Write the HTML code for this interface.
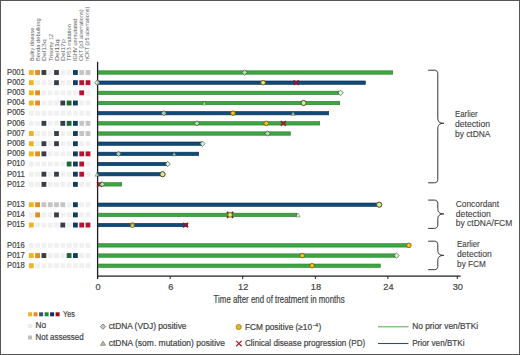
<!DOCTYPE html><html><head><meta charset="utf-8"><style>html,body{margin:0;padding:0;background:#fff;}svg{display:block;} text{stroke:#444;stroke-width:0.2px;} text.h{stroke:none;} text.g{stroke:#3c3c3c;stroke-width:0.1px;}</style></head><body>
<svg width="520" height="355" viewBox="0 0 520 355" font-family='"Liberation Sans", sans-serif'>
<rect x="0" y="0" width="520" height="355" fill="#fff"/>
<text class="h" transform="translate(34.20,61.0) rotate(-90)" font-size="6.2" fill="#606060" textLength="33.3" lengthAdjust="spacingAndGlyphs">Bulky disease</text>
<text class="h" transform="translate(40.32,61.0) rotate(-90)" font-size="6.2" fill="#606060" textLength="42.6" lengthAdjust="spacingAndGlyphs">Benda debulking</text>
<text class="h" transform="translate(46.44,61.0) rotate(-90)" font-size="6.2" fill="#606060" textLength="21.7" lengthAdjust="spacingAndGlyphs">Del13q</text>
<text class="h" transform="translate(52.56,61.0) rotate(-90)" font-size="6.2" fill="#606060" textLength="27.0" lengthAdjust="spacingAndGlyphs">Trisomy 12</text>
<text class="h" transform="translate(58.68,61.0) rotate(-90)" font-size="6.2" fill="#606060" textLength="21.7" lengthAdjust="spacingAndGlyphs">Del11q</text>
<text class="h" transform="translate(64.80,61.0) rotate(-90)" font-size="6.2" fill="#606060" textLength="21.7" lengthAdjust="spacingAndGlyphs">Del17p</text>
<text class="h" transform="translate(70.92,61.0) rotate(-90)" font-size="6.2" fill="#606060" textLength="36.9" lengthAdjust="spacingAndGlyphs">TP53 mutation</text>
<text class="h" transform="translate(77.04,61.0) rotate(-90)" font-size="6.2" fill="#606060" textLength="42.199999999999996" lengthAdjust="spacingAndGlyphs">IGHV unmutated</text>
<text class="h" transform="translate(83.16,61.0) rotate(-90)" font-size="6.2" fill="#606060" textLength="51.5" lengthAdjust="spacingAndGlyphs">CKT (≥3 aberrations)</text>
<text class="h" transform="translate(89.28,61.0) rotate(-90)" font-size="6.2" fill="#606060" textLength="54.4" lengthAdjust="spacingAndGlyphs">hCKT (≥5 aberrations)</text>
<text x="7.1" y="74.80" font-size="8.4" fill="#444444" textLength="17.7" lengthAdjust="spacingAndGlyphs">P001</text>
<rect x="28.90" y="70.05" width="4.8" height="4.9" fill="#f0b21e"/>
<rect x="35.20" y="70.05" width="4.8" height="4.9" fill="#e58b1f"/>
<rect x="41.50" y="70.05" width="4.8" height="4.9" fill="#383e48"/>
<rect x="47.80" y="70.05" width="4.8" height="4.9" fill="#f0f0f1"/>
<rect x="54.10" y="70.05" width="4.8" height="4.9" fill="#383e48"/>
<rect x="60.40" y="70.05" width="4.8" height="4.9" fill="#f0f0f1"/>
<rect x="66.70" y="70.05" width="4.8" height="4.9" fill="#f0f0f1"/>
<rect x="73.00" y="70.05" width="4.8" height="4.9" fill="#103c62"/>
<rect x="79.30" y="70.05" width="4.8" height="4.9" fill="#c4c4c4"/>
<rect x="85.60" y="70.05" width="4.8" height="4.9" fill="#c4c4c4"/>
<text x="7.1" y="84.97" font-size="8.4" fill="#444444" textLength="17.7" lengthAdjust="spacingAndGlyphs">P002</text>
<rect x="28.90" y="80.22" width="4.8" height="4.9" fill="#f0b21e"/>
<rect x="35.20" y="80.22" width="4.8" height="4.9" fill="#f0f0f1"/>
<rect x="41.50" y="80.22" width="4.8" height="4.9" fill="#f0f0f1"/>
<rect x="47.80" y="80.22" width="4.8" height="4.9" fill="#f0f0f1"/>
<rect x="54.10" y="80.22" width="4.8" height="4.9" fill="#383e48"/>
<rect x="60.40" y="80.22" width="4.8" height="4.9" fill="#f0f0f1"/>
<rect x="66.70" y="80.22" width="4.8" height="4.9" fill="#f0f0f1"/>
<rect x="73.00" y="80.22" width="4.8" height="4.9" fill="#103c62"/>
<rect x="79.30" y="80.22" width="4.8" height="4.9" fill="#ba1230"/>
<rect x="85.60" y="80.22" width="4.8" height="4.9" fill="#ba1230"/>
<text x="7.1" y="95.14" font-size="8.4" fill="#444444" textLength="17.7" lengthAdjust="spacingAndGlyphs">P003</text>
<rect x="28.90" y="90.39" width="4.8" height="4.9" fill="#f0b21e"/>
<rect x="35.20" y="90.39" width="4.8" height="4.9" fill="#e58b1f"/>
<rect x="41.50" y="90.39" width="4.8" height="4.9" fill="#f0f0f1"/>
<rect x="47.80" y="90.39" width="4.8" height="4.9" fill="#f0f0f1"/>
<rect x="54.10" y="90.39" width="4.8" height="4.9" fill="#f0f0f1"/>
<rect x="60.40" y="90.39" width="4.8" height="4.9" fill="#f0f0f1"/>
<rect x="66.70" y="90.39" width="4.8" height="4.9" fill="#f0f0f1"/>
<rect x="73.00" y="90.39" width="4.8" height="4.9" fill="#f0f0f1"/>
<rect x="79.30" y="90.39" width="4.8" height="4.9" fill="#ba1230"/>
<rect x="85.60" y="90.39" width="4.8" height="4.9" fill="#f0f0f1"/>
<text x="7.1" y="105.31" font-size="8.4" fill="#444444" textLength="17.7" lengthAdjust="spacingAndGlyphs">P004</text>
<rect x="28.90" y="100.56" width="4.8" height="4.9" fill="#f0b21e"/>
<rect x="35.20" y="100.56" width="4.8" height="4.9" fill="#e58b1f"/>
<rect x="41.50" y="100.56" width="4.8" height="4.9" fill="#f0f0f1"/>
<rect x="47.80" y="100.56" width="4.8" height="4.9" fill="#f0f0f1"/>
<rect x="54.10" y="100.56" width="4.8" height="4.9" fill="#f0f0f1"/>
<rect x="60.40" y="100.56" width="4.8" height="4.9" fill="#383e48"/>
<rect x="66.70" y="100.56" width="4.8" height="4.9" fill="#1b6536"/>
<rect x="73.00" y="100.56" width="4.8" height="4.9" fill="#103c62"/>
<rect x="79.30" y="100.56" width="4.8" height="4.9" fill="#f0f0f1"/>
<rect x="85.60" y="100.56" width="4.8" height="4.9" fill="#f0f0f1"/>
<text x="7.1" y="115.48" font-size="8.4" fill="#444444" textLength="17.7" lengthAdjust="spacingAndGlyphs">P005</text>
<rect x="28.90" y="110.73" width="4.8" height="4.9" fill="#f0f0f1"/>
<rect x="35.20" y="110.73" width="4.8" height="4.9" fill="#f0f0f1"/>
<rect x="41.50" y="110.73" width="4.8" height="4.9" fill="#f0f0f1"/>
<rect x="47.80" y="110.73" width="4.8" height="4.9" fill="#f0f0f1"/>
<rect x="54.10" y="110.73" width="4.8" height="4.9" fill="#f0f0f1"/>
<rect x="60.40" y="110.73" width="4.8" height="4.9" fill="#f0f0f1"/>
<rect x="66.70" y="110.73" width="4.8" height="4.9" fill="#f0f0f1"/>
<rect x="73.00" y="110.73" width="4.8" height="4.9" fill="#f0f0f1"/>
<rect x="79.30" y="110.73" width="4.8" height="4.9" fill="#f0f0f1"/>
<rect x="85.60" y="110.73" width="4.8" height="4.9" fill="#f0f0f1"/>
<text x="7.1" y="125.65" font-size="8.4" fill="#444444" textLength="17.7" lengthAdjust="spacingAndGlyphs">P006</text>
<rect x="28.90" y="120.90" width="4.8" height="4.9" fill="#f0f0f1"/>
<rect x="35.20" y="120.90" width="4.8" height="4.9" fill="#f0f0f1"/>
<rect x="41.50" y="120.90" width="4.8" height="4.9" fill="#383e48"/>
<rect x="47.80" y="120.90" width="4.8" height="4.9" fill="#f0f0f1"/>
<rect x="54.10" y="120.90" width="4.8" height="4.9" fill="#f0f0f1"/>
<rect x="60.40" y="120.90" width="4.8" height="4.9" fill="#383e48"/>
<rect x="66.70" y="120.90" width="4.8" height="4.9" fill="#1b6536"/>
<rect x="73.00" y="120.90" width="4.8" height="4.9" fill="#103c62"/>
<rect x="79.30" y="120.90" width="4.8" height="4.9" fill="#c4c4c4"/>
<rect x="85.60" y="120.90" width="4.8" height="4.9" fill="#c4c4c4"/>
<text x="7.1" y="135.82" font-size="8.4" fill="#444444" textLength="17.7" lengthAdjust="spacingAndGlyphs">P007</text>
<rect x="28.90" y="131.07" width="4.8" height="4.9" fill="#f0b21e"/>
<rect x="35.20" y="131.07" width="4.8" height="4.9" fill="#f0f0f1"/>
<rect x="41.50" y="131.07" width="4.8" height="4.9" fill="#f0f0f1"/>
<rect x="47.80" y="131.07" width="4.8" height="4.9" fill="#f0f0f1"/>
<rect x="54.10" y="131.07" width="4.8" height="4.9" fill="#383e48"/>
<rect x="60.40" y="131.07" width="4.8" height="4.9" fill="#f0f0f1"/>
<rect x="66.70" y="131.07" width="4.8" height="4.9" fill="#f0f0f1"/>
<rect x="73.00" y="131.07" width="4.8" height="4.9" fill="#103c62"/>
<rect x="79.30" y="131.07" width="4.8" height="4.9" fill="#c4c4c4"/>
<rect x="85.60" y="131.07" width="4.8" height="4.9" fill="#c4c4c4"/>
<text x="7.1" y="145.99" font-size="8.4" fill="#444444" textLength="17.7" lengthAdjust="spacingAndGlyphs">P008</text>
<rect x="28.90" y="141.24" width="4.8" height="4.9" fill="#f0b21e"/>
<rect x="35.20" y="141.24" width="4.8" height="4.9" fill="#f0f0f1"/>
<rect x="41.50" y="141.24" width="4.8" height="4.9" fill="#383e48"/>
<rect x="47.80" y="141.24" width="4.8" height="4.9" fill="#f0f0f1"/>
<rect x="54.10" y="141.24" width="4.8" height="4.9" fill="#383e48"/>
<rect x="60.40" y="141.24" width="4.8" height="4.9" fill="#f0f0f1"/>
<rect x="66.70" y="141.24" width="4.8" height="4.9" fill="#f0f0f1"/>
<rect x="73.00" y="141.24" width="4.8" height="4.9" fill="#103c62"/>
<rect x="79.30" y="141.24" width="4.8" height="4.9" fill="#f0f0f1"/>
<rect x="85.60" y="141.24" width="4.8" height="4.9" fill="#f0f0f1"/>
<text x="7.1" y="156.16" font-size="8.4" fill="#444444" textLength="17.7" lengthAdjust="spacingAndGlyphs">P009</text>
<rect x="28.90" y="151.41" width="4.8" height="4.9" fill="#f0b21e"/>
<rect x="35.20" y="151.41" width="4.8" height="4.9" fill="#e58b1f"/>
<rect x="41.50" y="151.41" width="4.8" height="4.9" fill="#383e48"/>
<rect x="47.80" y="151.41" width="4.8" height="4.9" fill="#f0f0f1"/>
<rect x="54.10" y="151.41" width="4.8" height="4.9" fill="#f0f0f1"/>
<rect x="60.40" y="151.41" width="4.8" height="4.9" fill="#f0f0f1"/>
<rect x="66.70" y="151.41" width="4.8" height="4.9" fill="#f0f0f1"/>
<rect x="73.00" y="151.41" width="4.8" height="4.9" fill="#103c62"/>
<rect x="79.30" y="151.41" width="4.8" height="4.9" fill="#ba1230"/>
<rect x="85.60" y="151.41" width="4.8" height="4.9" fill="#ba1230"/>
<text x="7.1" y="166.33" font-size="8.4" fill="#444444" textLength="17.7" lengthAdjust="spacingAndGlyphs">P010</text>
<rect x="28.90" y="161.58" width="4.8" height="4.9" fill="#f0f0f1"/>
<rect x="35.20" y="161.58" width="4.8" height="4.9" fill="#f0f0f1"/>
<rect x="41.50" y="161.58" width="4.8" height="4.9" fill="#f0f0f1"/>
<rect x="47.80" y="161.58" width="4.8" height="4.9" fill="#f0f0f1"/>
<rect x="54.10" y="161.58" width="4.8" height="4.9" fill="#f0f0f1"/>
<rect x="60.40" y="161.58" width="4.8" height="4.9" fill="#f0f0f1"/>
<rect x="66.70" y="161.58" width="4.8" height="4.9" fill="#1b6536"/>
<rect x="73.00" y="161.58" width="4.8" height="4.9" fill="#103c62"/>
<rect x="79.30" y="161.58" width="4.8" height="4.9" fill="#ba1230"/>
<rect x="85.60" y="161.58" width="4.8" height="4.9" fill="#f0f0f1"/>
<text x="7.1" y="176.50" font-size="8.4" fill="#444444" textLength="17.7" lengthAdjust="spacingAndGlyphs">P011</text>
<rect x="28.90" y="171.75" width="4.8" height="4.9" fill="#f0f0f1"/>
<rect x="35.20" y="171.75" width="4.8" height="4.9" fill="#f0f0f1"/>
<rect x="41.50" y="171.75" width="4.8" height="4.9" fill="#383e48"/>
<rect x="47.80" y="171.75" width="4.8" height="4.9" fill="#f0f0f1"/>
<rect x="54.10" y="171.75" width="4.8" height="4.9" fill="#383e48"/>
<rect x="60.40" y="171.75" width="4.8" height="4.9" fill="#f0f0f1"/>
<rect x="66.70" y="171.75" width="4.8" height="4.9" fill="#f0f0f1"/>
<rect x="73.00" y="171.75" width="4.8" height="4.9" fill="#103c62"/>
<rect x="79.30" y="171.75" width="4.8" height="4.9" fill="#ba1230"/>
<rect x="85.60" y="171.75" width="4.8" height="4.9" fill="#f0f0f1"/>
<text x="7.1" y="186.67" font-size="8.4" fill="#444444" textLength="17.7" lengthAdjust="spacingAndGlyphs">P012</text>
<rect x="28.90" y="181.92" width="4.8" height="4.9" fill="#f0f0f1"/>
<rect x="35.20" y="181.92" width="4.8" height="4.9" fill="#f0f0f1"/>
<rect x="41.50" y="181.92" width="4.8" height="4.9" fill="#383e48"/>
<rect x="47.80" y="181.92" width="4.8" height="4.9" fill="#f0f0f1"/>
<rect x="54.10" y="181.92" width="4.8" height="4.9" fill="#f0f0f1"/>
<rect x="60.40" y="181.92" width="4.8" height="4.9" fill="#f0f0f1"/>
<rect x="66.70" y="181.92" width="4.8" height="4.9" fill="#f0f0f1"/>
<rect x="73.00" y="181.92" width="4.8" height="4.9" fill="#103c62"/>
<rect x="79.30" y="181.92" width="4.8" height="4.9" fill="#f0f0f1"/>
<rect x="85.60" y="181.92" width="4.8" height="4.9" fill="#f0f0f1"/>
<text x="7.1" y="207.01" font-size="8.4" fill="#444444" textLength="17.7" lengthAdjust="spacingAndGlyphs">P013</text>
<rect x="28.90" y="202.26" width="4.8" height="4.9" fill="#f0b21e"/>
<rect x="35.20" y="202.26" width="4.8" height="4.9" fill="#e58b1f"/>
<rect x="41.50" y="202.26" width="4.8" height="4.9" fill="#c4c4c4"/>
<rect x="47.80" y="202.26" width="4.8" height="4.9" fill="#c4c4c4"/>
<rect x="54.10" y="202.26" width="4.8" height="4.9" fill="#c4c4c4"/>
<rect x="60.40" y="202.26" width="4.8" height="4.9" fill="#c4c4c4"/>
<rect x="66.70" y="202.26" width="4.8" height="4.9" fill="#f0f0f1"/>
<rect x="73.00" y="202.26" width="4.8" height="4.9" fill="#103c62"/>
<rect x="79.30" y="202.26" width="4.8" height="4.9" fill="#f0f0f1"/>
<rect x="85.60" y="202.26" width="4.8" height="4.9" fill="#f0f0f1"/>
<text x="7.1" y="217.18" font-size="8.4" fill="#444444" textLength="17.7" lengthAdjust="spacingAndGlyphs">P014</text>
<rect x="28.90" y="212.43" width="4.8" height="4.9" fill="#f0f0f1"/>
<rect x="35.20" y="212.43" width="4.8" height="4.9" fill="#e58b1f"/>
<rect x="41.50" y="212.43" width="4.8" height="4.9" fill="#f0f0f1"/>
<rect x="47.80" y="212.43" width="4.8" height="4.9" fill="#f0f0f1"/>
<rect x="54.10" y="212.43" width="4.8" height="4.9" fill="#383e48"/>
<rect x="60.40" y="212.43" width="4.8" height="4.9" fill="#f0f0f1"/>
<rect x="66.70" y="212.43" width="4.8" height="4.9" fill="#f0f0f1"/>
<rect x="73.00" y="212.43" width="4.8" height="4.9" fill="#103c62"/>
<rect x="79.30" y="212.43" width="4.8" height="4.9" fill="#f0f0f1"/>
<rect x="85.60" y="212.43" width="4.8" height="4.9" fill="#f0f0f1"/>
<text x="7.1" y="227.35" font-size="8.4" fill="#444444" textLength="17.7" lengthAdjust="spacingAndGlyphs">P015</text>
<rect x="28.90" y="222.60" width="4.8" height="4.9" fill="#f0b21e"/>
<rect x="35.20" y="222.60" width="4.8" height="4.9" fill="#f0f0f1"/>
<rect x="41.50" y="222.60" width="4.8" height="4.9" fill="#f0f0f1"/>
<rect x="47.80" y="222.60" width="4.8" height="4.9" fill="#f0f0f1"/>
<rect x="54.10" y="222.60" width="4.8" height="4.9" fill="#f0f0f1"/>
<rect x="60.40" y="222.60" width="4.8" height="4.9" fill="#383e48"/>
<rect x="66.70" y="222.60" width="4.8" height="4.9" fill="#f0f0f1"/>
<rect x="73.00" y="222.60" width="4.8" height="4.9" fill="#103c62"/>
<rect x="79.30" y="222.60" width="4.8" height="4.9" fill="#ba1230"/>
<rect x="85.60" y="222.60" width="4.8" height="4.9" fill="#ba1230"/>
<text x="7.1" y="247.69" font-size="8.4" fill="#444444" textLength="17.7" lengthAdjust="spacingAndGlyphs">P016</text>
<rect x="28.90" y="242.94" width="4.8" height="4.9" fill="#f0f0f1"/>
<rect x="35.20" y="242.94" width="4.8" height="4.9" fill="#f0f0f1"/>
<rect x="41.50" y="242.94" width="4.8" height="4.9" fill="#f0f0f1"/>
<rect x="47.80" y="242.94" width="4.8" height="4.9" fill="#f0f0f1"/>
<rect x="54.10" y="242.94" width="4.8" height="4.9" fill="#f0f0f1"/>
<rect x="60.40" y="242.94" width="4.8" height="4.9" fill="#f0f0f1"/>
<rect x="66.70" y="242.94" width="4.8" height="4.9" fill="#f0f0f1"/>
<rect x="73.00" y="242.94" width="4.8" height="4.9" fill="#f0f0f1"/>
<rect x="79.30" y="242.94" width="4.8" height="4.9" fill="#f0f0f1"/>
<rect x="85.60" y="242.94" width="4.8" height="4.9" fill="#f0f0f1"/>
<text x="7.1" y="257.86" font-size="8.4" fill="#444444" textLength="17.7" lengthAdjust="spacingAndGlyphs">P017</text>
<rect x="28.90" y="253.11" width="4.8" height="4.9" fill="#f0b21e"/>
<rect x="35.20" y="253.11" width="4.8" height="4.9" fill="#e58b1f"/>
<rect x="41.50" y="253.11" width="4.8" height="4.9" fill="#383e48"/>
<rect x="47.80" y="253.11" width="4.8" height="4.9" fill="#f0f0f1"/>
<rect x="54.10" y="253.11" width="4.8" height="4.9" fill="#f0f0f1"/>
<rect x="60.40" y="253.11" width="4.8" height="4.9" fill="#f0f0f1"/>
<rect x="66.70" y="253.11" width="4.8" height="4.9" fill="#1b6536"/>
<rect x="73.00" y="253.11" width="4.8" height="4.9" fill="#103c62"/>
<rect x="79.30" y="253.11" width="4.8" height="4.9" fill="#f0f0f1"/>
<rect x="85.60" y="253.11" width="4.8" height="4.9" fill="#f0f0f1"/>
<text x="7.1" y="268.03" font-size="8.4" fill="#444444" textLength="17.7" lengthAdjust="spacingAndGlyphs">P018</text>
<rect x="28.90" y="263.28" width="4.8" height="4.9" fill="#f0b21e"/>
<rect x="35.20" y="263.28" width="4.8" height="4.9" fill="#f0f0f1"/>
<rect x="41.50" y="263.28" width="4.8" height="4.9" fill="#f0f0f1"/>
<rect x="47.80" y="263.28" width="4.8" height="4.9" fill="#f0f0f1"/>
<rect x="54.10" y="263.28" width="4.8" height="4.9" fill="#f0f0f1"/>
<rect x="60.40" y="263.28" width="4.8" height="4.9" fill="#f0f0f1"/>
<rect x="66.70" y="263.28" width="4.8" height="4.9" fill="#f0f0f1"/>
<rect x="73.00" y="263.28" width="4.8" height="4.9" fill="#f0f0f1"/>
<rect x="79.30" y="263.28" width="4.8" height="4.9" fill="#f0f0f1"/>
<rect x="85.60" y="263.28" width="4.8" height="4.9" fill="#f0f0f1"/>
<line x1="97.6" y1="61.8" x2="97.6" y2="279" stroke="#1e1e1e" stroke-width="1.3"/>
<line x1="97" y1="276.2" x2="460.6" y2="276.2" stroke="#1e1e1e" stroke-width="1.3"/>
<line x1="97.5" y1="276" x2="97.5" y2="279" stroke="#222" stroke-width="1"/>
<text x="98.0" y="289.7" font-size="9.2" fill="#444444" text-anchor="middle">0</text>
<line x1="170.2" y1="276" x2="170.2" y2="279" stroke="#222" stroke-width="1"/>
<text x="170.7" y="289.7" font-size="9.2" fill="#444444" text-anchor="middle">6</text>
<line x1="242.7" y1="276" x2="242.7" y2="279" stroke="#222" stroke-width="1"/>
<text x="243.2" y="289.7" font-size="9.2" fill="#444444" text-anchor="middle">12</text>
<line x1="315.4" y1="276" x2="315.4" y2="279" stroke="#222" stroke-width="1"/>
<text x="315.9" y="289.7" font-size="9.2" fill="#444444" text-anchor="middle">18</text>
<line x1="387.9" y1="276" x2="387.9" y2="279" stroke="#222" stroke-width="1"/>
<text x="388.4" y="289.7" font-size="9.2" fill="#444444" text-anchor="middle">24</text>
<line x1="457.3" y1="276" x2="457.3" y2="279" stroke="#222" stroke-width="1"/>
<text x="457.8" y="289.7" font-size="9.2" fill="#444444" text-anchor="middle">30</text>
<text x="213.6" y="302.7" font-size="10.1" fill="#444444" textLength="131" lengthAdjust="spacingAndGlyphs">Time after end of treatment in months</text>
<rect x="98.1" y="70.80" width="294.60" height="3.4" fill="#3ca740" stroke="#2b7a2e" stroke-width="0.6"/>
<path d="M241.90 72.50L244.60 69.80L247.30 72.50L244.60 75.20Z" fill="rgba(215,240,205,0.78)" stroke="rgba(40,50,40,0.72)" stroke-width="0.8"/>
<rect x="98.1" y="80.97" width="267.30" height="3.4" fill="#0f4a78" stroke="#0a2f52" stroke-width="0.6"/>
<path d="M94.60 82.67L97.30 79.97L100.00 82.67L97.30 85.37Z" fill="rgba(215,240,205,0.78)" stroke="rgba(40,50,40,0.72)" stroke-width="0.8"/>
<circle cx="263.10" cy="82.67" r="2.3" fill="#f2c21e" stroke="#6e5a10" stroke-width="0.8"/>
<path d="M261.20 82.67L263.10 80.77L265.00 82.67L263.10 84.57Z" fill="rgba(205,240,185,0.85)" stroke="none"/>
<path d="M293.60 80.37L298.80 84.97M298.80 80.37L293.60 84.97" stroke="rgba(160,15,45,0.92)" stroke-width="1.6" fill="none"/>
<rect x="98.1" y="91.14" width="240.60" height="3.4" fill="#3ca740" stroke="#2b7a2e" stroke-width="0.6"/>
<path d="M337.90 92.84L340.60 90.14L343.30 92.84L340.60 95.54Z" fill="rgba(215,240,205,0.78)" stroke="rgba(40,50,40,0.72)" stroke-width="0.8"/>
<rect x="98.1" y="101.31" width="241.60" height="3.4" fill="#3ca740" stroke="#2b7a2e" stroke-width="0.6"/>
<path d="M202.20 105.00L204.30 101.01L206.40 105.00Z" fill="rgba(205,245,195,0.72)" stroke="rgba(40,50,40,0.55)" stroke-width="0.7"/>
<circle cx="303.60" cy="103.01" r="2.6" fill="#cfd98e" stroke="#574d18" stroke-width="1"/>
<path d="M301.70 103.01L303.60 101.11L305.50 103.01L303.60 104.91Z" fill="rgba(205,240,185,0.85)" stroke="none"/>
<rect x="98.1" y="111.48" width="230.60" height="3.4" fill="#0f4a78" stroke="#0a2f52" stroke-width="0.6"/>
<path d="M161.10 113.18L163.80 110.48L166.50 113.18L163.80 115.88Z" fill="rgba(215,240,205,0.78)" stroke="rgba(40,50,40,0.72)" stroke-width="0.8"/>
<circle cx="233.00" cy="113.18" r="2.3" fill="#f2c21e" stroke="#6e5a10" stroke-width="0.8"/>
<path d="M291.00 115.18L293.10 111.19L295.20 115.18Z" fill="rgba(205,245,195,0.72)" stroke="rgba(40,50,40,0.55)" stroke-width="0.7"/>
<rect x="98.1" y="121.65" width="221.60" height="3.4" fill="#3ca740" stroke="#2b7a2e" stroke-width="0.6"/>
<path d="M194.20 123.35L196.90 120.65L199.60 123.35L196.90 126.05Z" fill="rgba(215,240,205,0.78)" stroke="rgba(40,50,40,0.72)" stroke-width="0.8"/>
<circle cx="266.30" cy="123.35" r="2.3" fill="#f2c21e" stroke="#6e5a10" stroke-width="0.8"/>
<path d="M280.70 121.05L285.90 125.65M285.90 121.05L280.70 125.65" stroke="rgba(160,15,45,0.92)" stroke-width="1.6" fill="none"/>
<rect x="98.1" y="131.82" width="192.30" height="3.4" fill="#3ca740" stroke="#2b7a2e" stroke-width="0.6"/>
<path d="M264.90 133.52L267.60 130.82L270.30 133.52L267.60 136.22Z" fill="rgba(215,240,205,0.78)" stroke="rgba(40,50,40,0.72)" stroke-width="0.8"/>
<rect x="98.1" y="141.99" width="103.60" height="3.4" fill="#0f4a78" stroke="#0a2f52" stroke-width="0.6"/>
<path d="M199.70 143.69L202.40 140.99L205.10 143.69L202.40 146.39Z" fill="rgba(215,240,205,0.78)" stroke="rgba(40,50,40,0.72)" stroke-width="0.8"/>
<rect x="98.1" y="152.16" width="100.60" height="3.4" fill="#0f4a78" stroke="#0a2f52" stroke-width="0.6"/>
<path d="M115.80 153.86L118.50 151.16L121.20 153.86L118.50 156.56Z" fill="rgba(215,240,205,0.78)" stroke="rgba(40,50,40,0.72)" stroke-width="0.8"/>
<path d="M172.10 155.86L174.20 151.87L176.30 155.86Z" fill="rgba(205,245,195,0.72)" stroke="rgba(40,50,40,0.55)" stroke-width="0.7"/>
<rect x="98.1" y="162.33" width="68.60" height="3.4" fill="#0f4a78" stroke="#0a2f52" stroke-width="0.6"/>
<path d="M165.00 164.03L167.70 161.33L170.40 164.03L167.70 166.73Z" fill="rgba(215,240,205,0.78)" stroke="rgba(40,50,40,0.72)" stroke-width="0.8"/>
<rect x="98.1" y="172.50" width="64.60" height="3.4" fill="#0f4a78" stroke="#0a2f52" stroke-width="0.6"/>
<path d="M95.10 176.19L97.20 172.20L99.30 176.19Z" fill="rgba(205,245,195,0.72)" stroke="rgba(40,50,40,0.55)" stroke-width="0.7"/>
<circle cx="162.60" cy="174.20" r="2.6" fill="#cfd98e" stroke="#574d18" stroke-width="1"/>
<path d="M160.70 174.20L162.60 172.30L164.50 174.20L162.60 176.10Z" fill="rgba(205,240,185,0.85)" stroke="none"/>
<rect x="98.1" y="182.67" width="23.60" height="3.4" fill="#3ca740" stroke="#2b7a2e" stroke-width="0.6"/>
<path d="M96.90 182.07L102.10 186.67M102.10 182.07L96.90 186.67" stroke="rgba(160,15,45,0.92)" stroke-width="1.6" fill="none"/>
<path d="M99.50 184.37L102.20 181.67L104.90 184.37L102.20 187.07Z" fill="rgba(215,240,205,0.78)" stroke="rgba(40,50,40,0.72)" stroke-width="0.8"/>
<rect x="98.1" y="203.01" width="280.60" height="3.4" fill="#0f4a78" stroke="#0a2f52" stroke-width="0.6"/>
<circle cx="379.20" cy="204.71" r="2.6" fill="#cfd98e" stroke="#574d18" stroke-width="1"/>
<path d="M377.30 204.71L379.20 202.81L381.10 204.71L379.20 206.61Z" fill="rgba(205,240,185,0.85)" stroke="none"/>
<rect x="98.1" y="213.18" width="198.60" height="3.4" fill="#3ca740" stroke="#2b7a2e" stroke-width="0.6"/>
<path d="M227.00 211.98L233.20 217.78M233.20 211.98L227.00 217.78" stroke="#6e2a1a" stroke-width="1.7" fill="none"/>
<circle cx="230.10" cy="214.88" r="2.3" fill="#f2c21e" stroke="#6e5a10" stroke-width="0.8"/>
<path d="M228.20 214.88L230.10 212.98L232.00 214.88L230.10 216.78Z" fill="rgba(205,240,185,0.85)" stroke="none"/>
<path d="M295.90 216.88L298.00 212.88L300.10 216.88Z" fill="rgba(205,245,195,0.72)" stroke="rgba(40,50,40,0.55)" stroke-width="0.7"/>
<rect x="98.1" y="223.35" width="89.60" height="3.4" fill="#0f4a78" stroke="#0a2f52" stroke-width="0.6"/>
<circle cx="132.40" cy="225.05" r="2.3" fill="#f2c21e" stroke="#6e5a10" stroke-width="0.8"/>
<path d="M130.30 227.05L132.40 223.06L134.50 227.05Z" fill="rgba(205,245,195,0.72)" stroke="rgba(40,50,40,0.55)" stroke-width="0.7"/>
<path d="M183.00 222.75L188.20 227.35M188.20 222.75L183.00 227.35" stroke="rgba(160,15,45,0.92)" stroke-width="1.6" fill="none"/>
<rect x="98.1" y="243.69" width="309.60" height="3.4" fill="#3ca740" stroke="#2b7a2e" stroke-width="0.6"/>
<circle cx="408.90" cy="245.39" r="2.3" fill="#f2c21e" stroke="#6e5a10" stroke-width="0.8"/>
<rect x="98.1" y="253.86" width="297.10" height="3.4" fill="#3ca740" stroke="#2b7a2e" stroke-width="0.6"/>
<circle cx="302.20" cy="255.56" r="2.3" fill="#f2c21e" stroke="#6e5a10" stroke-width="0.8"/>
<path d="M393.80 255.56L396.50 252.86L399.20 255.56L396.50 258.26Z" fill="rgba(215,240,205,0.78)" stroke="rgba(40,50,40,0.72)" stroke-width="0.8"/>
<rect x="98.1" y="264.03" width="282.20" height="3.4" fill="#3ca740" stroke="#2b7a2e" stroke-width="0.6"/>
<circle cx="312.10" cy="265.73" r="2.3" fill="#f2c21e" stroke="#6e5a10" stroke-width="0.8"/>
<path d="M428.2 70.2 L434.6 70.2 C436.36 70.2 437.8 71.64 437.8 73.4 L437.8 117.8 C437.8 121.375 439.3 123.3 443.8 123.3 C439.3 123.3 437.8 125.225 437.8 128.8 L437.8 179.60000000000002 C437.8 181.36 436.36 182.8 434.6 182.8 L428.2 182.8" fill="none" stroke="#333" stroke-width="1"/>
<path d="M428.2 200.1 L434.6 200.1 C436.36 200.1 437.8 201.54 437.8 203.29999999999998 L437.8 208.4 C437.8 211.975 439.3 213.9 443.8 213.9 C439.3 213.9 437.8 215.82500000000002 437.8 219.4 L437.8 225.20000000000002 C437.8 226.96 436.36 228.4 434.6 228.4 L428.2 228.4" fill="none" stroke="#333" stroke-width="1"/>
<path d="M428.2 241.2 L434.6 241.2 C436.36 241.2 437.8 242.64 437.8 244.39999999999998 L437.8 249.9 C437.8 253.475 439.3 255.4 443.8 255.4 C439.3 255.4 437.8 257.325 437.8 260.9 L437.8 266.5 C437.8 268.26 436.36 269.7 434.6 269.7 L428.2 269.7" fill="none" stroke="#333" stroke-width="1"/>
<text class="g" x="455" y="117.0" font-size="8.8" fill="#3c3c3c" textLength="22.7" lengthAdjust="spacingAndGlyphs">Earlier</text><text class="g" x="455" y="126.8" font-size="8.8" fill="#3c3c3c" textLength="35" lengthAdjust="spacingAndGlyphs">detection</text><text class="g" x="455" y="136.6" font-size="8.8" fill="#3c3c3c" textLength="35.4" lengthAdjust="spacingAndGlyphs">by ctDNA</text>
<text class="g" x="455.8" y="206.9" font-size="8.8" fill="#3c3c3c" textLength="43.2" lengthAdjust="spacingAndGlyphs">Concordant</text><text class="g" x="455.8" y="216.7" font-size="8.8" fill="#3c3c3c" textLength="35" lengthAdjust="spacingAndGlyphs">detection</text><text class="g" x="455.8" y="226.2" font-size="8.8" fill="#3c3c3c" textLength="56.5" lengthAdjust="spacingAndGlyphs">by ctDNA/FCM</text>
<text class="g" x="457.1" y="246.9" font-size="8.8" fill="#3c3c3c" textLength="22.6" lengthAdjust="spacingAndGlyphs">Earlier</text><text class="g" x="457.1" y="256.8" font-size="8.8" fill="#3c3c3c" textLength="34.6" lengthAdjust="spacingAndGlyphs">detection</text><text class="g" x="457.1" y="266.7" font-size="8.8" fill="#3c3c3c" textLength="28.8" lengthAdjust="spacingAndGlyphs">by FCM</text>
<rect x="28.10" y="312.3" width="4" height="4" fill="#f0b21e"/>
<rect x="33.60" y="312.3" width="4" height="4" fill="#e58b1f"/>
<rect x="39.10" y="312.3" width="4" height="4" fill="#36507a"/>
<rect x="44.60" y="312.3" width="4" height="4" fill="#1e8a30"/>
<rect x="50.10" y="312.3" width="4" height="4" fill="#12315a"/>
<rect x="55.60" y="312.3" width="4" height="4" fill="#9a0c1a"/>
<text x="63" y="316.5" font-size="8.4" fill="#444444" textLength="11.8" lengthAdjust="spacingAndGlyphs">Yes</text>
<rect x="28" y="324" width="4" height="4" fill="#ebebeb"/>
<text x="35.5" y="327.8" font-size="8.4" fill="#444444" textLength="10.6" lengthAdjust="spacingAndGlyphs">No</text>
<rect x="28" y="335.5" width="4" height="4" fill="#bdbdbd"/>
<text x="35.5" y="340.0" font-size="8.4" fill="#444444" textLength="48.1" lengthAdjust="spacingAndGlyphs">Not assessed</text>
<path d="M100.3 326.6L103 323.9L105.7 326.6L103 329.3Z" fill="#c3cabd" stroke="#7d807a" stroke-width="0.9"/>
<text x="108.7" y="329.3" font-size="8.4" fill="#444444" textLength="77.8" lengthAdjust="spacingAndGlyphs">ctDNA (VDJ) positive</text>
<path d="M100.6 345.3L103 341.1L105.4 345.3Z" fill="#bcc2b6" stroke="#868a82" stroke-width="0.9"/>
<text x="108.7" y="346.2" font-size="8.4" fill="#444444" textLength="116.3" lengthAdjust="spacingAndGlyphs">ctDNA (som. mutation) positive</text>
<circle cx="238.7" cy="327" r="2.6" fill="#f0b21e" stroke="#a07c18" stroke-width="0.8"/>
<text x="244.9" y="330.3" font-size="8.4" fill="#444444" textLength="67.2" lengthAdjust="spacingAndGlyphs">FCM positive (≥10</text>
<text x="312.4" y="327.4" font-size="5.6" fill="#444444" textLength="5.8" lengthAdjust="spacingAndGlyphs">−4</text>
<text x="318.4" y="330.3" font-size="8.3" fill="#444444">)</text>
<path d="M236.2 340.9L241.6 346.3M241.6 340.9L236.2 346.3" stroke="#b0202e" stroke-width="1.3" fill="none"/>
<text x="244.9" y="346.3" font-size="8.4" fill="#444444" textLength="120.4" lengthAdjust="spacingAndGlyphs">Clinical disease progression (PD)</text>
<line x1="378" y1="326.8" x2="408.5" y2="326.8" stroke="#62b35c" stroke-width="1.1"/>
<text x="412.2" y="329.3" font-size="8.4" fill="#444444" textLength="65.9" lengthAdjust="spacingAndGlyphs">No prior ven/BTKi</text>
<line x1="378" y1="343.5" x2="408.5" y2="343.5" stroke="#33506f" stroke-width="1.1"/>
<text x="412.2" y="345.6" font-size="8.4" fill="#444444" textLength="52.3" lengthAdjust="spacingAndGlyphs">Prior ven/BTKi</text>
<rect x="0.5" y="0.5" width="519" height="354" fill="none" stroke="#555" stroke-width="1"/>
</svg></body></html>
